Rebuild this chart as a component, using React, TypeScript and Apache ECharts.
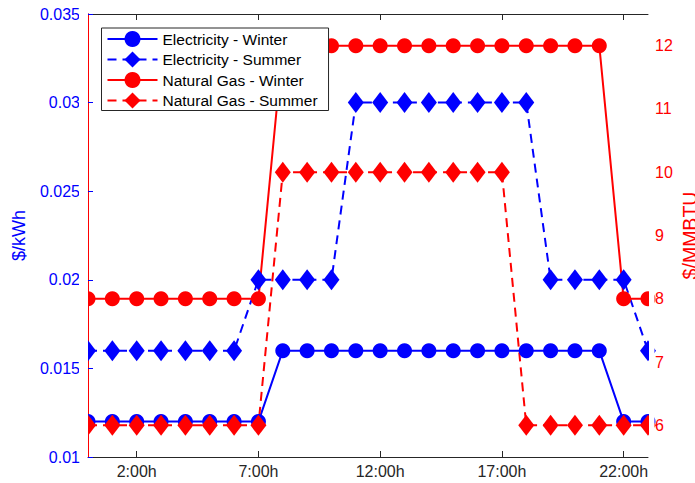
import React, { useEffect, useRef } from "react";
import * as echarts from "echarts";

// Hour of day for each sample (0:00h .. 23:00h)
const hours = [0, 1, 2, 3, 4, 5, 6, 7, 8, 9, 10, 11, 12, 13, 14, 15, 16, 17, 18, 19, 20, 21, 22, 23];

// Electricity tariffs, $/kWh
const elecWinter = [
  0.012, 0.012, 0.012, 0.012, 0.012, 0.012, 0.012, 0.012,
  0.016, 0.016, 0.016, 0.016, 0.016, 0.016, 0.016, 0.016,
  0.016, 0.016, 0.016, 0.016, 0.016, 0.016, 0.012, 0.012,
];
const elecSummer = [
  0.016, 0.016, 0.016, 0.016, 0.016, 0.016, 0.016, 0.02,
  0.02, 0.02, 0.02, 0.03, 0.03, 0.03, 0.03, 0.03,
  0.03, 0.03, 0.03, 0.02, 0.02, 0.02, 0.02, 0.016,
];

// Natural gas tariffs, $/MMBTU
const gasWinter = [
  8, 8, 8, 8, 8, 8, 8, 8,
  12, 12, 12, 12, 12, 12, 12, 12,
  12, 12, 12, 12, 12, 12, 8, 8,
];
const gasSummer = [
  6, 6, 6, 6, 6, 6, 6, 6,
  10, 10, 10, 10, 10, 10, 10, 10,
  10, 10, 6, 6, 6, 6, 6, 6,
];

const xTickHours = [2, 7, 12, 17, 22];
const gasTicks = [6, 7, 8, 9, 10, 11, 12];

const FONT = "'Liberation Sans', Arial, Helvetica, sans-serif";
const BLUE = "#0000ff";
const RED = "#ff0000";
const DARK = "#262626";

const pairs = (vals: number[]) => hours.map((h, i) => [h, vals[i]]);

export default function App() {
  const ref = useRef<HTMLDivElement>(null);

  useEffect(() => {
    if (!ref.current) return;
    const chart = echarts.init(ref.current, undefined, { renderer: "svg" });

    const lineSeries = (
      name: string,
      vals: number[],
      color: string,
      symbol: string,
      symbolSize: number | number[],
      dashed: boolean,
      yAxisIndex: number
    ) => ({
      name,
      type: "line",
      yAxisIndex,
      data: pairs(vals),
      symbol,
      symbolSize,
      showAllSymbol: true,
      clip: false,
      silent: true,
      itemStyle: { color, borderWidth: 0 },
      lineStyle: { color, width: 2, type: dashed ? [9, 6] : "solid" },
      z: 2,
    });

    chart.setOption({
      animation: false,
      textStyle: { fontFamily: FONT },
      grid: {
        left: 88,
        right: 47,
        top: 14,
        bottom: 26,
        containLabel: false,
        outerBoundsMode: "none",
      },
      legend: {
        orient: "vertical",
        left: 101.5,
        top: 28,
        itemWidth: 50,
        itemHeight: 20,
        itemGap: 4.5,
        padding: [3, 11, 2, 5],
        backgroundColor: "#ffffff",
        borderColor: DARK,
        borderWidth: 1,
        borderRadius: 0,
        textStyle: { fontSize: 15.5, color: "#000000", fontFamily: FONT },
        data: [
          "Electricity - Winter",
          "Electricity - Summer",
          "Natural Gas - Winter",
          "Natural Gas - Summer",
        ],
        z: 20,
      },
      xAxis: [
        {
          type: "value",
          position: "bottom",
          min: 0,
          max: 23,
          splitLine: { show: false },
          axisLine: { lineStyle: { color: DARK, width: 1 } },
          axisTick: {
            inside: true,
            length: 6,
            customValues: xTickHours,
            lineStyle: { color: DARK },
          },
          axisLabel: {
            customValues: xTickHours,
            formatter: (v: number) => `${v}:00h`,
            color: DARK,
            fontSize: 16,
            margin: 6,
            fontFamily: FONT,
          },
        },
        {
          type: "value",
          position: "top",
          min: 0,
          max: 23,
          splitLine: { show: false },
          axisLine: { lineStyle: { color: DARK, width: 1 } },
          axisTick: {
            inside: true,
            length: 6,
            customValues: xTickHours,
            lineStyle: { color: DARK },
          },
          axisLabel: { show: false },
        },
      ],
      yAxis: [
        {
          type: "value",
          position: "left",
          min: 0.01,
          max: 0.035,
          interval: 0.005,
          splitLine: { show: false },
          axisLine: { show: true, lineStyle: { color: BLUE, width: 1 } },
          axisTick: { show: true, inside: true, length: 5, lineStyle: { color: BLUE } },
          axisLabel: {
            color: BLUE,
            fontSize: 16,
            margin: 8,
            fontFamily: FONT,
            formatter: (v: number) => String(Number(v.toFixed(3))),
          },
          name: "$/kWh",
          nameLocation: "middle",
          nameRotate: 90,
          nameGap: 60,
          nameTextStyle: { color: BLUE, fontSize: 18, fontFamily: FONT },
        },
        {
          type: "value",
          position: "right",
          min: 5.5,
          max: 12.5,
          alignTicks: false,
          splitLine: { show: false },
          axisLine: { show: true, lineStyle: { color: RED, width: 1 } },
          axisTick: {
            show: true,
            inside: true,
            length: 5,
            customValues: gasTicks,
            lineStyle: { color: RED },
          },
          axisLabel: {
            customValues: gasTicks,
            color: RED,
            fontSize: 16,
            margin: 7,
            fontFamily: FONT,
          },
          name: "$/MMBTU",
          nameLocation: "middle",
          nameRotate: 90,
          nameGap: 32,
          nameMoveOverlap: false,
          nameTextStyle: { color: RED, fontSize: 19.5, fontFamily: FONT },
        },
      ],
      series: [
        lineSeries("Electricity - Winter", elecWinter, BLUE, "circle", 15, false, 0),
        lineSeries("Electricity - Summer", elecSummer, BLUE, "diamond", [16, 21], true, 0),
        lineSeries("Natural Gas - Winter", gasWinter, RED, "circle", 15, false, 1),
        lineSeries("Natural Gas - Summer", gasSummer, RED, "diamond", [16, 21], true, 1),
      ],
      // markers sitting on the plot edges are trimmed to the axes box
      graphic: [
        {
          type: "rect",
          silent: true,
          z: 10,
          shape: { x: 79, y: 14, width: 9, height: 443 },
          style: { fill: "#ffffff" },
        },
        {
          type: "rect",
          silent: true,
          z: 10,
          shape: { x: 649, y: 14, width: 5.5, height: 443 },
          style: { fill: "#ffffff" },
        },
      ],
    });

    return () => chart.dispose();
  }, []);

  return (
    <div
      ref={ref}
      style={{ position: "fixed", left: 0, top: 0, width: 695, height: 483, background: "#fff" }}
    />
  );
}
